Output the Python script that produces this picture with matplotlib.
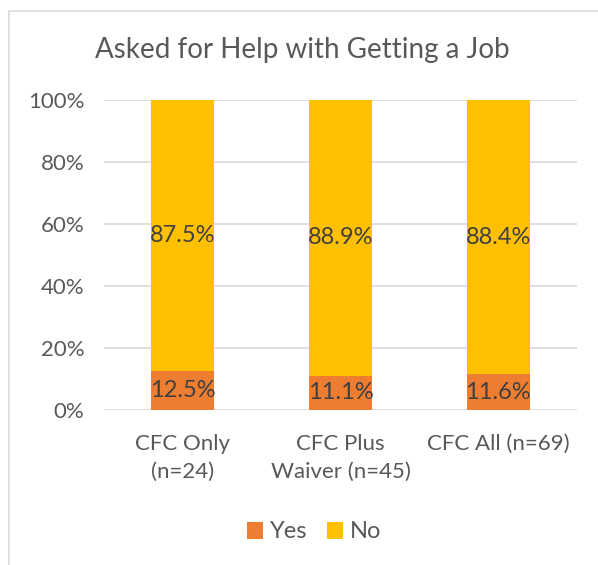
import matplotlib.pyplot as plt
from matplotlib.patches import Rectangle

categories = ["CFC Only\n(n=24)", "CFC Plus\nWaiver (n=45)", "CFC All (n=69)"]
yes_pct = [12.5, 11.1, 11.6]
no_pct = [87.5, 88.9, 88.4]
yticks = [0, 20, 40, 60, 80, 100]

plt.rcParams['font.family'] = ['Lato', 'DejaVu Sans']

ORANGE = '#ED7D31'
GOLD = '#FFC000'
TXT = '#595959'
LBL = '#404040'

fig = plt.figure(figsize=(5.98, 5.65), dpi=100)
ax = fig.add_axes([104 / 598, 1 - 410 / 565, 473 / 598, 310 / 565])

# outer chart border (runs off the right and bottom edges)
fig.patches.append(Rectangle((9 / 598, -0.05), 1.0, 1 - 11 / 565 + 0.05,
                             transform=fig.transFigure, fill=False,
                             edgecolor='#d9d9d9', linewidth=1.2))

x = list(range(len(categories)))
b1 = ax.bar(x, yes_pct, width=0.4, color=ORANGE, label='Yes', zorder=3)
b2 = ax.bar(x, no_pct, width=0.4, bottom=yes_pct, color=GOLD, label='No', zorder=3)

for i in x:
    ax.text(i, yes_pct[i] / 2, f"{yes_pct[i]:.1f}%", ha='center', va='center',
            fontsize=17, color=LBL, zorder=4)
    ax.text(i, yes_pct[i] + no_pct[i] / 2, f"{no_pct[i]:.1f}%", ha='center',
            va='center', fontsize=17, color=LBL, zorder=4)

ax.set_xlim(-0.5, 2.5)
ax.set_ylim(0, 100)
ax.set_yticks(yticks)
ax.set_yticklabels([f"{v}%" for v in yticks])
ax.set_xticks(x)
ax.set_xticklabels(categories, linespacing=1.5)
ax.tick_params(length=0, labelsize=16, colors=TXT)
ax.tick_params(axis='x', pad=17)
ax.tick_params(axis='y', pad=14)
ax.yaxis.grid(True, color='#d9d9d9', linewidth=1.2, zorder=0)
for s in ax.spines.values():
    s.set_visible(False)

fig.text(302 / 598, 1 - 50 / 565, "Asked for Help with Getting a Job",
         ha='center', va='center', fontsize=20, color=TXT)

fig.legend(handles=[b1, b2], loc='center', bbox_to_anchor=(314 / 598, 1 - 532 / 565),
           ncol=2, frameon=False, fontsize=17, labelcolor=TXT,
           handlelength=0.7, handleheight=0.7, handletextpad=0.3, columnspacing=0.8)

fig.savefig('out.png', dpi=100)
